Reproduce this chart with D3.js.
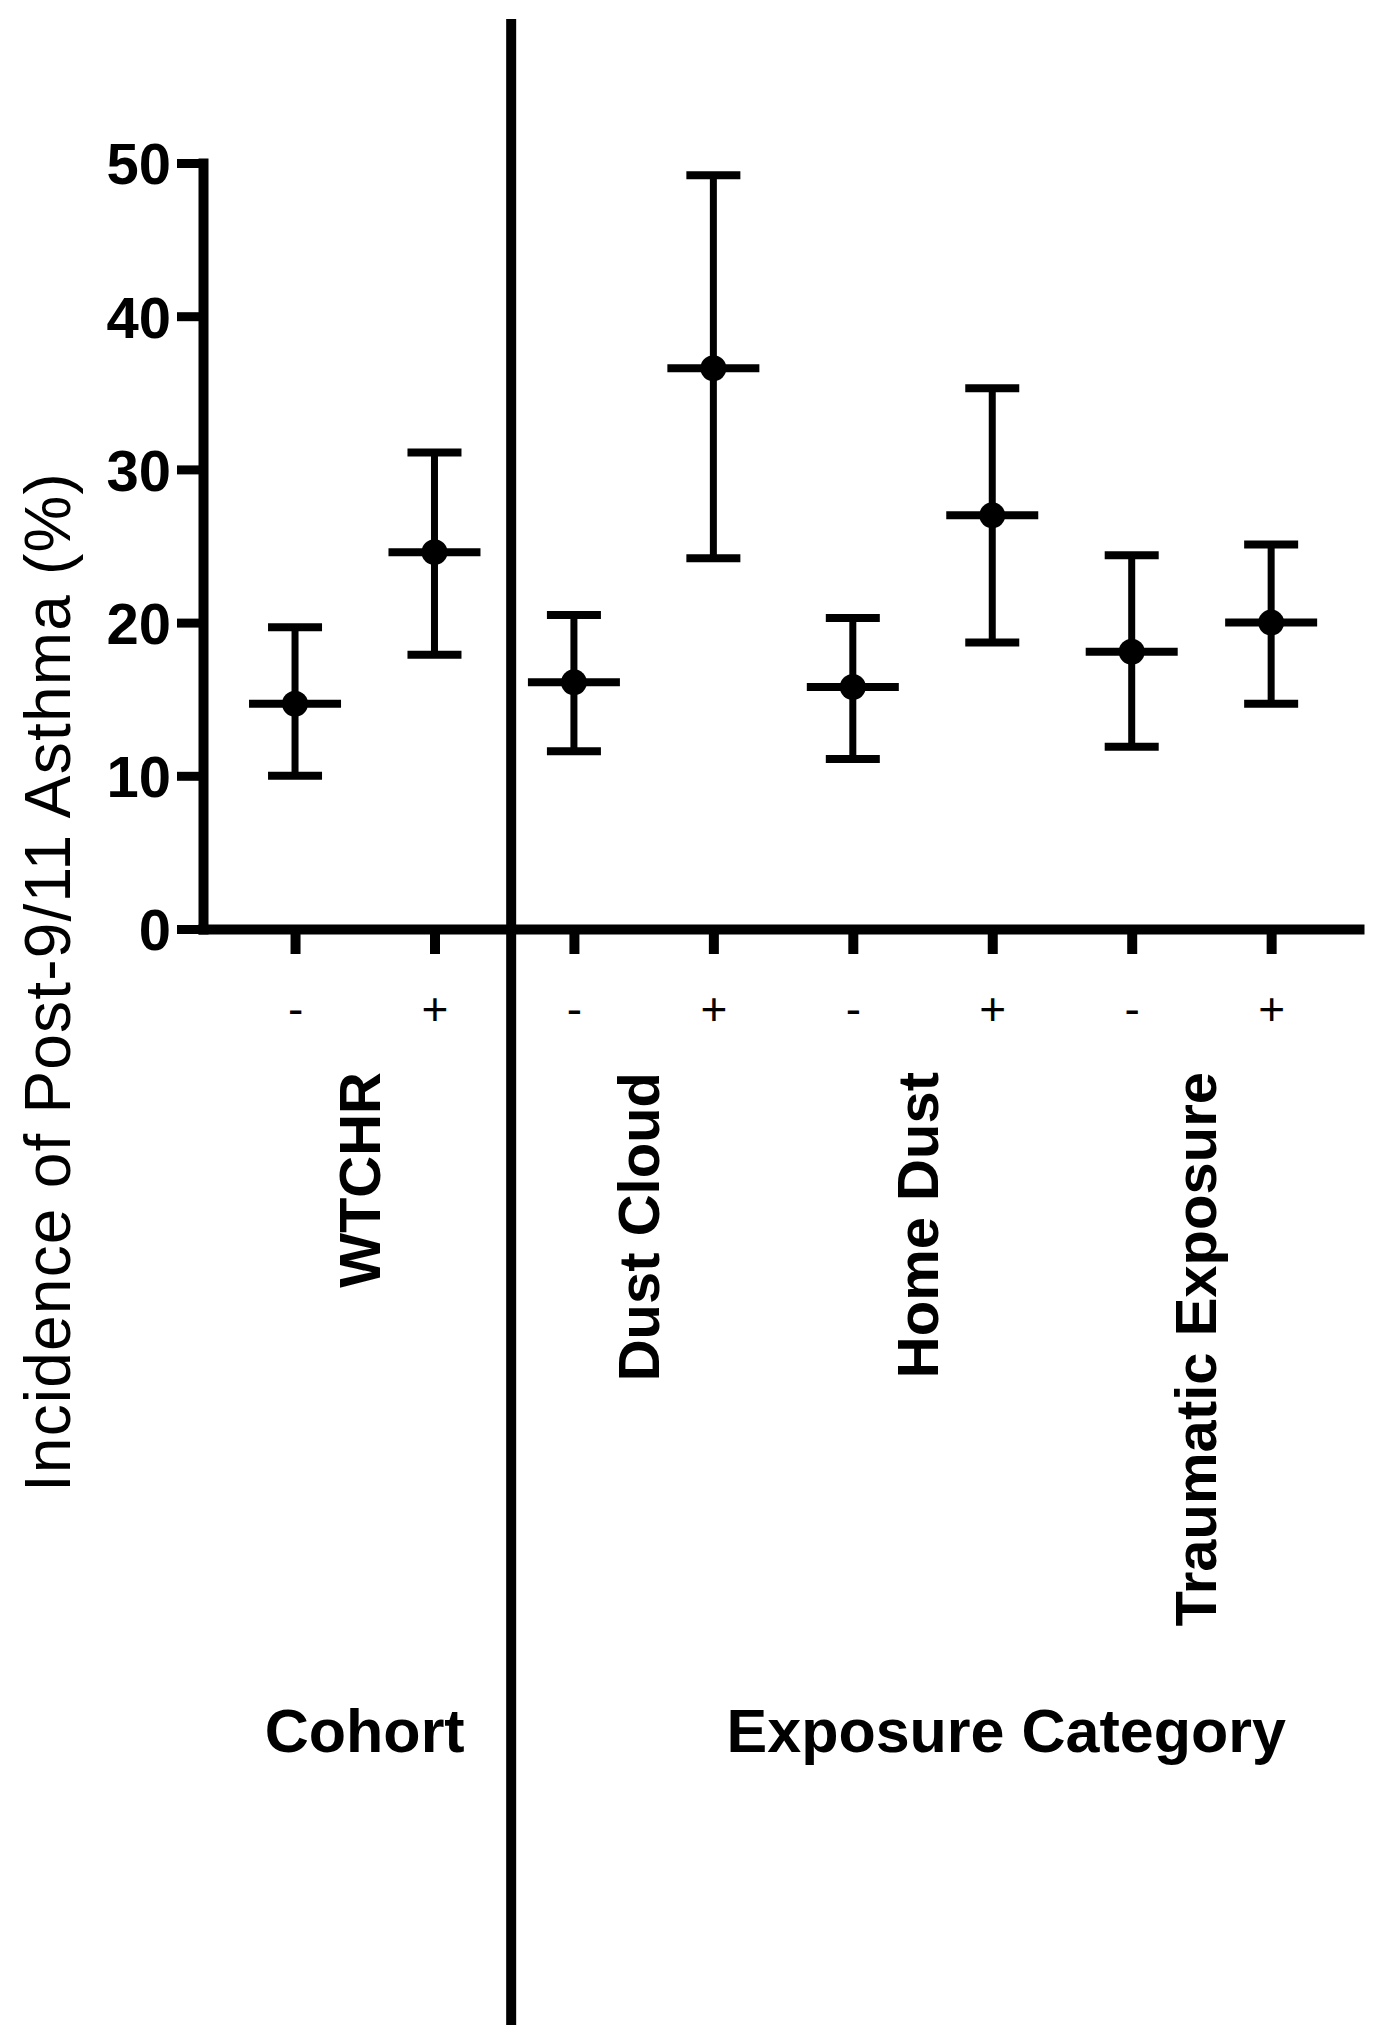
<!DOCTYPE html>
<html>
<head lang="en">
    <meta charset="UTF-8">
    <title></title>
    <script src="https://cdn.jsdelivr.net/npm/d3@7/dist/d3.min.js"></script>
    <style>
        body{margin:0;background:#fff;}
        text{font-family:"Liberation Sans",Arial,sans-serif;fill:#000;}
    </style>
</head>
<body>
<script>
    // groups and the -/+ exposure for each one
    var groups=["WTCHR","Dust Cloud","Home Dust","Traumatic Exposure"];
    var signs=["-","+","-","+","-","+","-","+"];
    // incidence (%) with 95% CI
    var means=[14.7,24.6,16.1,36.6,15.8,27.0,18.1,20.0];
    var lower=[10.0,17.9,11.6,24.2,11.1,18.7,11.9,14.7];
    var upper=[19.7,31.1,20.5,49.2,20.3,35.3,24.4,25.1];
    var yTicks=[0,10,20,30,40,50];

    var W=1374,H=2040;
    var _svg=d3.select("body").append("svg")
            .attr("width",W)
            .attr("height",H);

    var x=d3.scaleLinear().domain([-0.66,7.63]).range([203,1359]);
    var y=d3.scaleLinear().domain([0,50]).range([929,163]);

    //y axis
    var _yaxis=_svg.append("g")
            .attr("transform","translate("+x(-0.66)+",0)")
            .call(d3.axisLeft(y).tickValues(yTicks).tickSize(26).tickSizeOuter(0).tickPadding(6));
    _yaxis.select(".domain").attr("stroke-width",10).attr("stroke-linecap","square");
    _yaxis.selectAll(".tick line").attr("stroke-width",9);
    _yaxis.selectAll(".tick text")
            .style("font-size","58px")
            .style("font-weight","bold")
            .attr("dy","0.36em");

    //x axis
    var _xaxis=_svg.append("g")
            .attr("transform","translate(0,"+y(0)+")")
            .call(d3.axisBottom(x).tickValues(d3.range(8)).tickFormat(function(i){return signs[i];}).tickSize(25).tickSizeOuter(0));
    _xaxis.select(".domain").attr("stroke-width",10).attr("stroke-linecap","square");
    _xaxis.selectAll(".tick line").attr("stroke-width",10);
    _xaxis.selectAll(".tick text")
            .style("font-size","46px")
            .attr("dy",null)
            .attr("y",96);

    //divider between cohort and exposure
    _svg.append("line")
            .attr("x1",x(1.55)).attr("x2",x(1.55))
            .attr("y1",19).attr("y2",2025)
            .attr("stroke","#000")
            .attr("stroke-width",10);

    //error bars
    var _g=_svg.append("g");
    var idx=d3.range(means.length);
    _g.selectAll("line.whisker").data(idx).enter().append("line")
            .attr("class","whisker")
            .attr("x1",function(i){return x(i);})
            .attr("x2",function(i){return x(i);})
            .attr("y1",function(i){return y(lower[i]);})
            .attr("y2",function(i){return y(upper[i]);})
            .attr("stroke","#000").attr("stroke-width",7);
    [lower,upper].forEach(function(arr){
        _g.selectAll(null).data(idx).enter().append("line")
                .attr("x1",function(i){return x(i)-27;})
                .attr("x2",function(i){return x(i)+27;})
                .attr("y1",function(i){return y(arr[i]);})
                .attr("y2",function(i){return y(arr[i]);})
                .attr("stroke","#000").attr("stroke-width",8);
    });
    _g.selectAll("line.mean").data(idx).enter().append("line")
            .attr("class","mean")
            .attr("x1",function(i){return x(i)-46;})
            .attr("x2",function(i){return x(i)+46;})
            .attr("y1",function(i){return y(means[i]);})
            .attr("y2",function(i){return y(means[i]);})
            .attr("stroke","#000").attr("stroke-width",8);
    _g.selectAll("circle").data(idx).enter().append("circle")
            .attr("cx",function(i){return x(i);})
            .attr("cy",function(i){return y(means[i]);})
            .attr("r",13)
            .attr("fill","#000");

    //group labels
    _svg.selectAll("text.grp").data(groups).enter().append("text")
            .attr("class","grp")
            .attr("transform",function(d,k){return "translate("+(x(2*k+0.5)+15)+",1072) rotate(-90)";})
            .attr("text-anchor","end")
            .style("font-size","58px")
            .style("font-weight","bold")
            .text(function(d){return d;});

    _svg.append("text")
            .attr("x",x(0.5)).attr("y",1752)
            .attr("text-anchor","middle")
            .style("font-size","61px").style("font-weight","bold")
            .text("Cohort");
    _svg.append("text")
            .attr("x",x(5.1)).attr("y",1752)
            .attr("text-anchor","middle")
            .style("font-size","61px").style("font-weight","bold")
            .text("Exposure Category");

    //y title
    _svg.append("text")
            .attr("transform","translate(70,982) rotate(-90)")
            .attr("text-anchor","middle")
            .style("font-size","64px")
            .style("letter-spacing","1.2px")
            .text("Incidence of Post-9/11 Asthma (%)");
</script>
</body>
</html>
